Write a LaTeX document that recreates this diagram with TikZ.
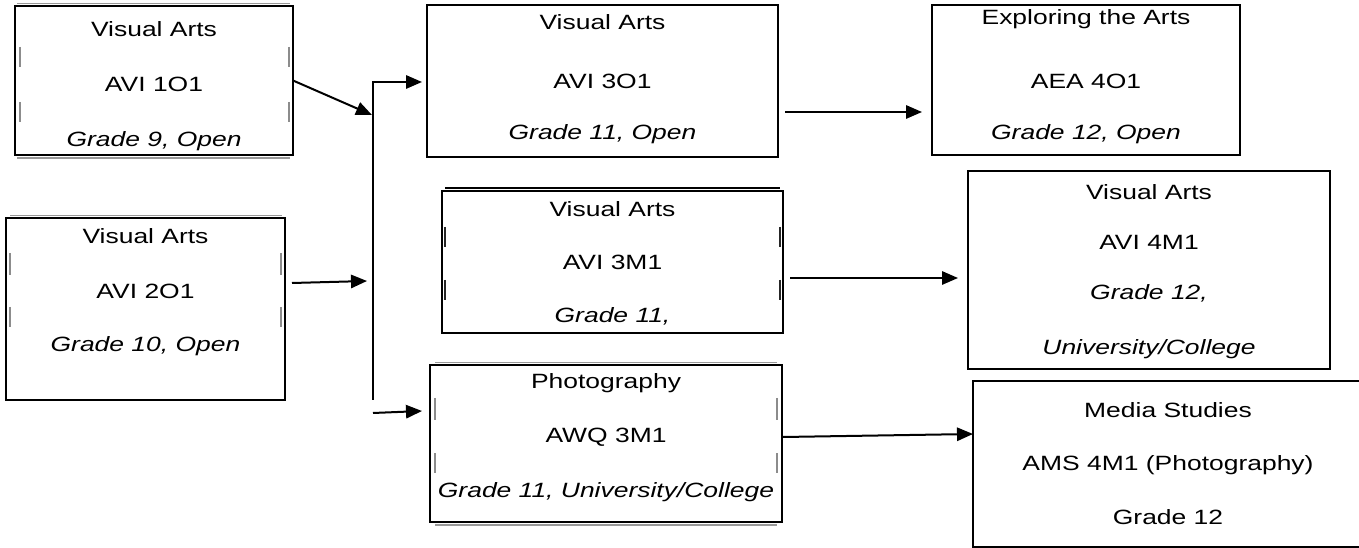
\documentclass[tikz,border=0pt]{standalone}
\usepackage{fontspec}
\setmainfont{Liberation Sans}
\usetikzlibrary{arrows.meta}
% course titles are set slightly widened
\newcommand{\wide}[1]{\scalebox{1.28}[1]{#1}}

\begin{document}
\begin{tikzpicture}[x=0.75pt,y=-0.75pt,
  box/.style={draw=black, line width=1.8pt, inner sep=0pt, outer sep=0pt, rectangle},
  txt/.style={anchor=base, inner sep=0pt, font=\fontsize{15.5}{18}\selectfont},
  conn/.style={line width=1.5pt, -{Triangle[length=12pt,width=10pt]}},
  frametick/.style={draw=black!45, line width=0.9pt},
  darktick/.style={draw=black!85, line width=1.3pt},
  edgeshade/.style={draw=black!40, line width=0.8pt}]

\fill[white] (0,0) rectangle (1359,548);
\useasboundingbox (0,0) rectangle (1359,548);

% ---- Grade 9 / Grade 10 ----
\node[box, minimum width=278*0.75pt, minimum height=149*0.75pt] (A) at (154,80.5) {};
\node[txt] (a1) at (154,37) {\wide{Visual Arts}};
\node[txt] (a2) at (154,92) {\wide{AVI 1O1}};
\node[txt] (a3) at (154,147) {\wide{\itshape Grade 9, Open}};

\node[box, minimum width=279*0.75pt, minimum height=182*0.75pt] (B) at (145.5,309) {};
\node[txt] (b1) at (145.5,244) {\wide{Visual Arts}};
\node[txt] (b2) at (145.5,299) {\wide{AVI 2O1}};
\node[txt] (b3) at (145.5,352) {\wide{\itshape Grade 10, Open}};

% ---- Grade 11 ----
\node[box, minimum width=351*0.75pt, minimum height=152*0.75pt] (C) at (602.5,81) {};
\node[txt] (c1) at (602.5,30) {\wide{Visual Arts}};
\node[txt] (c2) at (602.5,89) {\wide{AVI 3O1}};
\node[txt] (c3) at (602.5,140) {\wide{\itshape Grade 11, Open}};

\node[box, minimum width=341*0.75pt, minimum height=142*0.75pt] (E) at (612.5,262) {};
\node[txt] (e1) at (612.5,217) {\wide{Visual Arts}};
\node[txt] (e2) at (612.5,270) {\wide{AVI 3M1}};
\node[txt] (e3) at (612.5,323) {\wide{\itshape Grade 11,}};

\node[box, minimum width=352*0.75pt, minimum height=157*0.75pt] (H) at (606,443.5) {};
\node[txt] (h1) at (606,389) {\wide{Photography}};
\node[txt] (h2) at (606,442) {\wide{AWQ 3M1}};
\node[txt] (h3) at (606,497) {\wide{\itshape Grade 11, University/College}};

% ---- Grade 12 ----
\node[box, minimum width=308*0.75pt, minimum height=150*0.75pt] (D) at (1086,80) {};
\node[txt] (d1) at (1086,25) {\wide{Exploring the Arts}};
\node[txt] (d2) at (1086,89) {\wide{AEA 4O1}};
\node[txt] (d3) at (1086,140) {\wide{\itshape Grade 12, Open}};

\node[box, minimum width=362*0.75pt, minimum height=198*0.75pt] (F) at (1149,270) {};
\node[txt] (f1) at (1149,200) {\wide{Visual Arts}};
\node[txt] (f2) at (1149,250) {\wide{AVI 4M1}};
\node[txt] (f3) at (1149,300) {\wide{\itshape Grade 12,}};
\node[txt] (f4) at (1149,355) {\wide{\itshape University/College}};

\node[box, minimum width=407*0.75pt, minimum height=166*0.75pt] (G) at (1176.5,464) {};
\node[txt] (g1) at (1168,417) {\wide{Media Studies}};
\node[txt] (g2) at (1168,470) {\wide{AMS 4M1 (Photography)}};
\node[txt] (g3) at (1168,524) {\wide{Grade 12}};

% ---- frame marks and edge shading ----
\foreach \x in {20,289} {
  \draw[frametick] (\x,47) -- (\x,67);
  \draw[frametick] (\x,102) -- (\x,122);
}
\foreach \x in {10,281} {
  \draw[frametick] (\x,253) -- (\x,275);
  \draw[frametick] (\x,307) -- (\x,327);
}
\foreach \x in {445,780} {
  \draw[darktick] (\x,227) -- (\x,247);
  \draw[darktick] (\x,280) -- (\x,300);
}
\foreach \x in {435,777} {
  \draw[frametick] (\x,398) -- (\x,420);
  \draw[frametick] (\x,453) -- (\x,473);
}
\draw[edgeshade] (17,3.5) -- (290,3.5);
\draw[edgeshade] (17,158) -- (290,158);
\draw[edgeshade] (10,215.5) -- (282,215.5);
\draw[black, line width=1.1pt] (445,188) -- (780,188);
\draw[edgeshade] (435,362.5) -- (777,362.5);
\draw[edgeshade] (435,525) -- (777,525);

% ---- connectors ----
\coordinate (jtop) at (373,82);
\coordinate (jbot) at (373,400);
\coordinate (jin) at (372,115);
\coordinate (b-out) at (292,283);
\coordinate (b-in) at (367,281);
\coordinate (h-from) at (373,413);
\coordinate (h-in) at (422,411);

\draw[conn] (A.east) -- (jin);
\draw[conn, shorten >=3.75pt] (jbot) -- (jtop) -- (C.west |- jtop);
\draw[conn] (b-out) -- (b-in);
\draw[conn] (h-from) -- (h-in);

\coordinate (c-out) at (785,112);
\coordinate (e-out) at (790,278);
\coordinate (h-out) at (783,437);
\draw[conn, shorten >=7.5pt] (c-out) -- (D.west |- c-out);
\draw[conn, shorten >=7.5pt] (e-out) -- (F.west |- e-out);
\draw[conn] (h-out) -- (G.west |- 0,434);
\end{tikzpicture}
\end{document}
